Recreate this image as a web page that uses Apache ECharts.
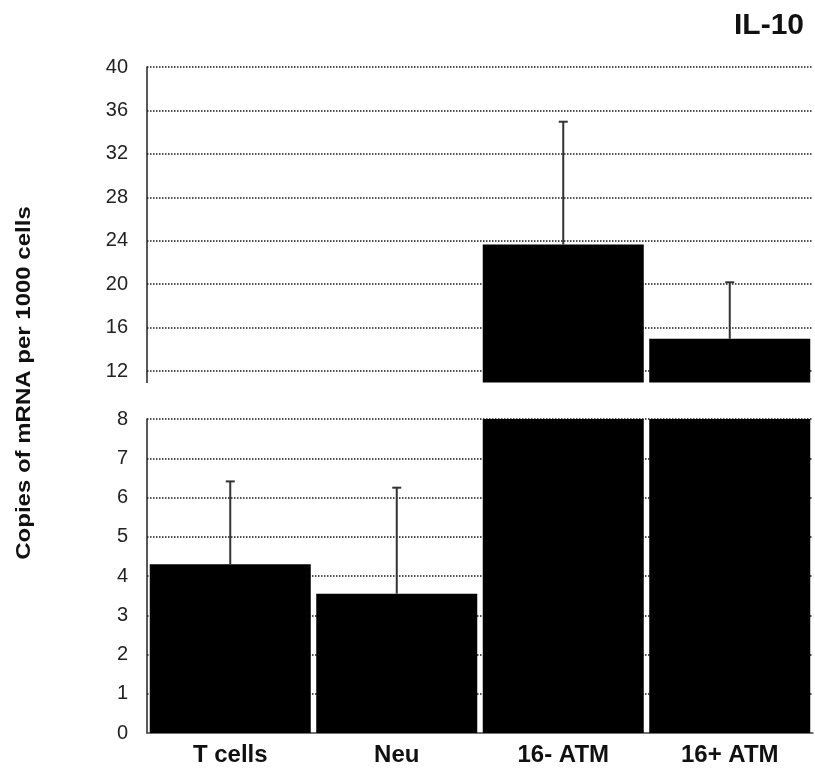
<!DOCTYPE html>
<html>
<head>
<meta charset="utf-8">
<script src="https://cdn.jsdelivr.net/npm/echarts@6/dist/echarts.min.js"></script>
<style>html,body{margin:0;padding:0;background:#fff}#c{width:815px;height:768px}</style>
</head>
<body>
<div id="c"></div>
<script>
// ---- data ----
const categories = ['T cells', 'Neu', '16- ATM', '16+ ATM'];
const means = [4.3, 3.55, 23.65, 14.97];
const errorTops = [6.41, 6.25, 34.96, 20.17];
const lowerTicks = [0, 1, 2, 3, 4, 5, 6, 7, 8];
const upperTicks = [12, 16, 20, 24, 28, 32, 36, 40];
const chartTitle = 'IL-10';
const yTitle = 'Copies of mRNA per 1000 cells';

// ---- layout / style ----
const FONT = '"Liberation Sans", Arial, Helvetica, sans-serif';
const GRID_LEFT = 147, GRID_RIGHT = 2;
const UP_TOP = 67, UP_BOTTOM_Y = 371;   // 40 .. 12
const LOW_TOP = 419, LOW_BOTTOM_Y = 733; // 8 .. 0
const BREAK_BASE = 10.95; // where the upper bar segments end (axis break)
const BAR_RATIO = 0.967;

const dotStyle = { color: '#1a1a1a', width: 1.5, type: [1.5, 1.5] };
const axisLineStyle = { show: true, lineStyle: { color: '#222', width: 1.5 } };

const chart = echarts.init(document.getElementById('c'), null, { renderer: 'canvas' });

function errRender(lo, hi) {
  return function (params, api) {
    const i = api.value(0), m = api.value(1), e = api.value(2);
    if (m < lo || m > hi) return null;
    const p1 = api.coord([i, m]);
    const p2 = api.coord([i, Math.min(e, hi)]);
    const style = { stroke: '#333', lineWidth: 2 };
    return {
      type: 'group',
      children: [
        { type: 'line', shape: { x1: p1[0], y1: p1[1], x2: p2[0], y2: p2[1] }, style: style },
        { type: 'line', shape: { x1: p2[0] - 4.5, y1: p2[1], x2: p2[0] + 4.5, y2: p2[1] }, style: style }
      ]
    };
  };
}

const option = {
  animation: false,
  backgroundColor: '#fff',
  title: {
    text: chartTitle, right: 6, top: 6,
    textStyle: { fontFamily: FONT, fontWeight: 'bold', fontSize: 30, color: '#111' }
  },
  grid: [
    { left: GRID_LEFT, right: GRID_RIGHT, top: UP_TOP, height: UP_BOTTOM_Y - UP_TOP },
    { left: GRID_LEFT, right: GRID_RIGHT, top: LOW_TOP, height: LOW_BOTTOM_Y - LOW_TOP }
  ],
  xAxis: [
    { type: 'category', gridIndex: 0, data: categories, show: false },
    {
      type: 'category', gridIndex: 1, data: categories,
      axisLine: { show: true, lineStyle: { color: '#444', width: 1.5 } },
      axisTick: { show: false },
      axisLabel: { margin: 10, fontFamily: FONT, fontWeight: 'bold', fontSize: 24, color: '#111' }
    }
  ],
  yAxis: [
    {
      type: 'value', gridIndex: 0,
      min: upperTicks[0], max: upperTicks[upperTicks.length - 1],
      interval: upperTicks[1] - upperTicks[0],
      axisLine: axisLineStyle, axisTick: { show: false },
      splitLine: { show: true, showMinLine: true, lineStyle: dotStyle },
      axisLabel: { margin: 19, fontFamily: FONT, fontSize: 20, color: '#222' }
    },
    {
      type: 'value', gridIndex: 1,
      min: lowerTicks[0], max: lowerTicks[lowerTicks.length - 1],
      interval: lowerTicks[1] - lowerTicks[0],
      axisLine: axisLineStyle, axisTick: { show: false },
      splitLine: { show: true, showMinLine: false, lineStyle: dotStyle },
      axisLabel: { margin: 19, fontFamily: FONT, fontSize: 20, color: '#222' }
    }
  ],
  series: [
    {
      type: 'bar', xAxisIndex: 1, yAxisIndex: 1, data: means,
      barCategoryGap: '3.3%', itemStyle: { color: '#000' }, z: 2
    },
    {
      type: 'custom', xAxisIndex: 0, yAxisIndex: 0, clip: false, z: 2,
      data: means.map((v, i) => [i, v]),
      renderItem: function (params, api) {
        const i = api.value(0), v = api.value(1);
        if (v <= BREAK_BASE) return null;
        const top = api.coord([i, v]);
        const bot = api.coord([i, BREAK_BASE]);
        const w = api.size([1, 0])[0] * BAR_RATIO;
        return { type: 'rect', shape: { x: top[0] - w / 2, y: top[1], width: w, height: bot[1] - top[1] }, style: { fill: '#000' } };
      }
    },
    {
      type: 'custom', xAxisIndex: 1, yAxisIndex: 1, z: 3, clip: false,
      data: means.map((v, i) => [i, v, errorTops[i]]),
      renderItem: errRender(lowerTicks[0], lowerTicks[lowerTicks.length - 1])
    },
    {
      type: 'custom', xAxisIndex: 0, yAxisIndex: 0, z: 3, clip: false,
      data: means.map((v, i) => [i, v, errorTops[i]]),
      renderItem: errRender(upperTicks[0], upperTicks[upperTicks.length - 1])
    }
  ],
  graphic: [
    {
      type: 'line', z: 5,
      shape: { x1: GRID_LEFT, y1: UP_BOTTOM_Y, x2: GRID_LEFT, y2: UP_BOTTOM_Y + 12 },
      style: { stroke: '#222', lineWidth: 1.5 }
    },
    {
      type: 'text', x: 24, y: 383, rotation: Math.PI / 2, scaleX: 1.2,
      style: {
        text: yTitle, fontFamily: FONT, fontWeight: 'bold', fontSize: 20, fill: '#111',
        align: 'center', verticalAlign: 'middle'
      }
    }
  ]
};
chart.setOption(option);
</script>
</body>
</html>
